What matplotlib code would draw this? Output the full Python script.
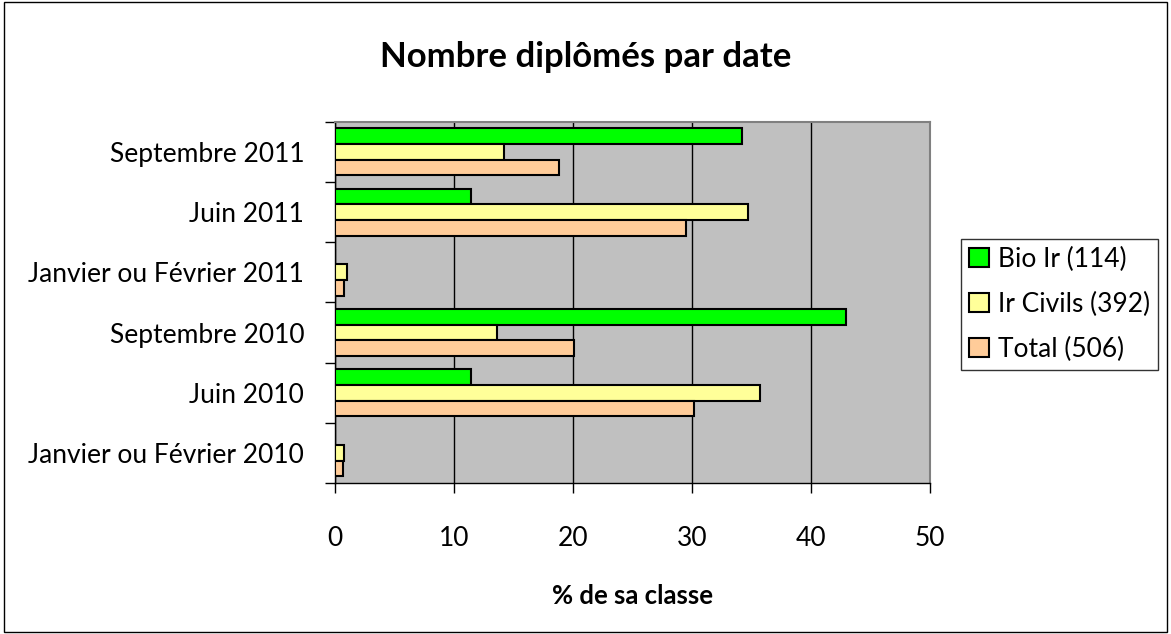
import matplotlib
matplotlib.use("Agg")
import matplotlib.pyplot as plt
import numpy as np
from matplotlib.patches import Rectangle

plt.rcParams['font.family'] = ['Lato', 'DejaVu Sans']

categories = ["Janvier ou Février 2010", "Juin 2010", "Septembre 2010",
              "Janvier ou Février 2011", "Juin 2011", "Septembre 2011"]
bio = [0.0, 11.4, 43.0, 0.0, 11.4, 34.2]
civils = [0.8, 35.7, 13.6, 1.0, 34.7, 14.2]
total = [0.7, 30.2, 20.1, 0.8, 29.5, 18.8]
series_names = ["Bio Ir (114)", "Ir Civils (392)", "Total (506)"]
colors = ["#00ff00", "#ffff99", "#ffcc99"]
xticks = [0, 10, 20, 30, 40, 50]

fig = plt.figure(figsize=(11.71, 6.34), dpi=100)
fig.patches.append(Rectangle((0.003, 0.003), 0.994, 0.994, transform=fig.transFigure,
                             fill=False, edgecolor='black', linewidth=1))
ax = fig.add_axes([0.286, 0.238, 0.508, 0.570])
ax.set_facecolor('#c0c0c0')

y = np.arange(len(categories))
h = 0.26
for vals, off, c, name in zip([bio, civils, total], [h, 0, -h], colors, series_names):
    ax.barh(y + off, vals, height=h, color=c, edgecolor='black', linewidth=1.5,
            label=name, zorder=3)

ax.set_xlim(0, 50)
ax.set_ylim(-0.5, len(categories) - 0.5)
ax.set_xticks(xticks)
ax.set_xticklabels([str(t) for t in xticks], fontsize=19)
ax.set_yticks(y)
ax.set_yticklabels(categories, fontsize=19)
ax.tick_params(axis='y', length=0, pad=22)
ax.set_yticks(np.arange(-0.5, len(categories)), minor=True)
ax.tick_params(axis='y', which='minor', length=7, direction='out', width=1)
ax.tick_params(axis='x', length=7, direction='out', width=1, pad=24)
ax.xaxis.grid(True, color='black', linewidth=1, zorder=1)
ax.set_axisbelow(True)
for s in ['top', 'right']:
    ax.spines[s].set_color('#808080')
    ax.spines[s].set_linewidth(1.5)
for s in ['left', 'bottom']:
    ax.spines[s].set_color('black')
    ax.spines[s].set_linewidth(1)

ax.set_xlabel("% de sa classe", fontsize=18.5, fontweight='bold', labelpad=24)
fig.text(0.500, 0.910, "Nombre diplômés par date", fontsize=25, fontweight='bold',
         ha='center', va='center')

leg = fig.legend(loc='center', bbox_to_anchor=(0.905, 0.520), fontsize=19,
                 frameon=True, fancybox=False, edgecolor='black',
                 handlelength=0.75, handleheight=0.75, handletextpad=0.35,
                 labelspacing=0.75, borderpad=0.3, borderaxespad=0)
leg.get_frame().set_linewidth(1)

fig.savefig("out.png", dpi=100)
